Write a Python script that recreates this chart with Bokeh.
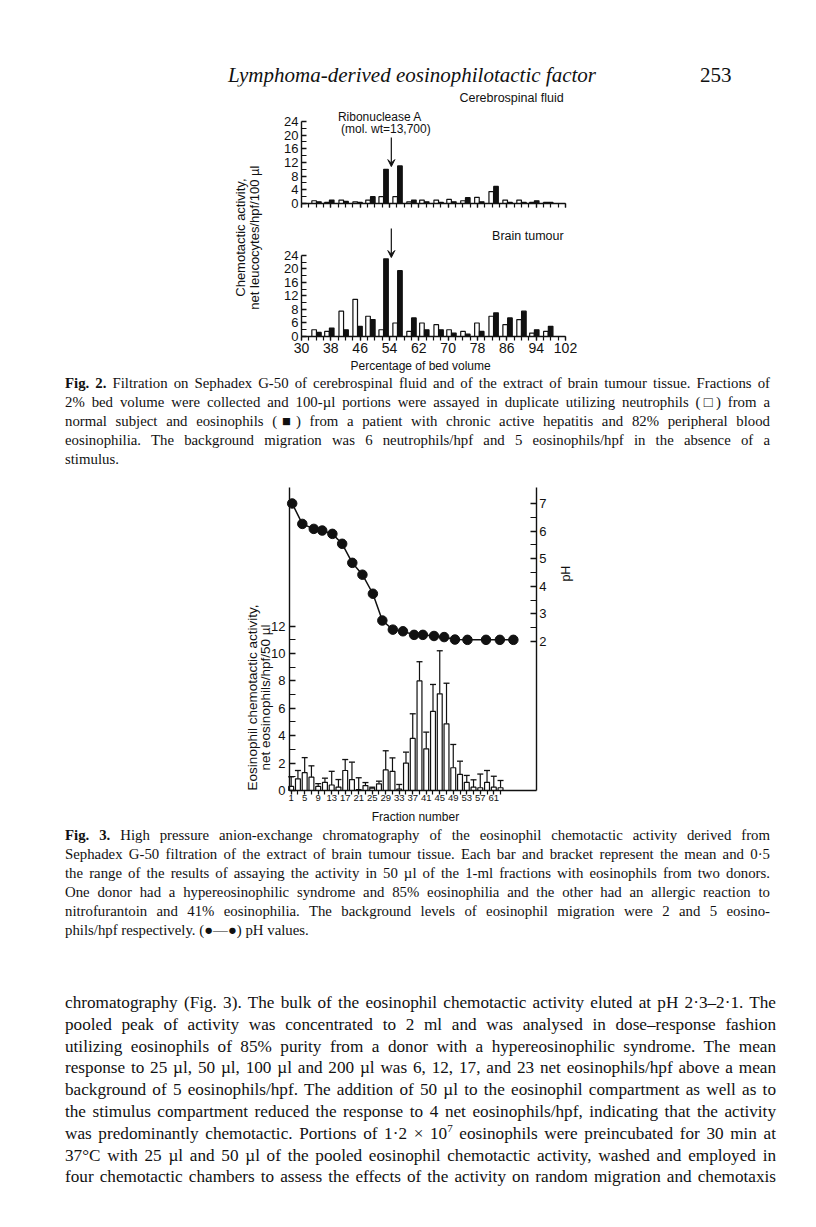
import math
from bokeh.plotting import figure
from bokeh.models import (Range1d, LinearAxis, FixedTicker, Label, Arrow, VeeHead,
                          Whisker, TeeHead, ColumnDataSource, Div)
from bokeh.layouts import column
from bokeh.transform import dodge
from bokeh.embed import file_html
from bokeh.resources import INLINE

# ---------------- Fig. 2 data ----------------
bed_volume = [34.1, 37.6, 41.5, 45.3, 48.8, 52.4, 56.2, 60.0, 63.5, 67.4,
              70.9, 74.7, 78.5, 82.4, 86.2, 90.0, 93.5, 97.3]
csf_neutrophils = [0.8, 0.3, 1.0, 0.5, 1.0, 2.0, 2.0, 0.5, 1.0, 1.0,
                   1.2, 0.8, 1.8, 3.5, 1.0, 1.0, 0.3, 0.3]
csf_eosinophils = [0.5, 1.0, 0.6, 0.3, 2.0, 10.0, 11.0, 1.0, 0.5, 0.3,
                   0.5, 1.7, 0.5, 5.0, 0.3, 0.3, 0.8, 0.3]
tumour_neutrophils = [2.0, 1.5, 7.5, 11.0, 6.0, 2.0, 4.0, 1.5, 4.0, 3.5,
                      2.0, 1.5, 4.0, 6.0, 3.5, 5.0, 1.0, 1.5]
tumour_eosinophils = [1.2, 2.5, 2.0, 3.0, 5.0, 23.0, 19.5, 5.5, 2.0, 2.0,
                      1.0, 0.7, 1.5, 7.0, 5.5, 7.5, 2.0, 3.0]
bed_ticks = [30, 38, 46, 54, 62, 70, 78, 86, 94, 102]
activity2_ticks = [0, 4, 8, 12, 16, 20, 24]
csf_tick_labels = ["0", "4", "8", "12", "16", "20", "24"]
tumour_tick_labels = ["0", "6", "8", "12", "16", "20", "24"]
ribonuclease_peak = 54.5

# ---------------- Fig. 3 data ----------------
fractions = [1, 3, 5, 7, 9, 11, 13, 15, 17, 19, 21, 23, 25, 27, 29, 31,
             33, 35, 37, 39, 41, 43, 45, 47, 49, 51, 53, 55, 57, 59, 61, 63]
eos_mean = [0.3, 0.85, 1.3, 0.97, 0.3, 0.6, 0.4, 0.25, 1.46, 0.8, 0.07, 0.36,
            0.17, 0.49, 1.5, 1.4, 0.1, 2.0, 3.8, 8.0, 3.04, 5.77, 7.06, 4.87,
            1.66, 1.17, 0.6, 0.24, 0.2, 0.6, 0.24, 0.2]
eos_upper = [1.0, 1.46, 2.4, 1.8, 0.5, 0.9, 1.4, 0.8, 2.26, 2.07, 0.93, 0.58,
             0.24, 0.68, 2.9, 2.38, 0.44, 2.8, 5.6, 9.4, 4.26, 7.74, 10.2, 7.83,
             3.36, 2.14, 1.1, 0.78, 1.2, 1.46, 1.04, 0.73]
ph_fraction = [1.3, 4.3, 7.7, 10.2, 13.2, 16.1, 19.1, 22.1, 25.2, 28.0, 31.1,
               34.1, 37.4, 40.0, 43.3, 46.3, 49.5, 53.2, 58.7, 62.8, 66.8]
ph_values = [7.0, 6.26, 6.08, 6.02, 5.9, 5.54, 4.85, 4.42, 3.73, 2.76, 2.43,
             2.37, 2.24, 2.24, 2.2, 2.16, 2.07, 2.06, 2.06, 2.06, 2.06]
fraction_ticks = [1, 5, 9, 13, 17, 21, 25, 29, 33, 37, 41, 45, 49, 53, 57, 61]
activity3_ticks = [0, 2, 4, 6, 8, 10, 12]
ph_ticks = [2, 3, 4, 5, 6, 7]

SANS = "Liberation Sans"
SERIF = "'Liberation Serif', 'Times New Roman', serif"
INK = "#111111"


def style_axis(ax, size, tin, tout, standoff=3):
    ax.axis_line_color = INK
    ax.axis_line_width = 1.4
    ax.major_tick_line_color = INK
    ax.minor_tick_line_color = INK
    ax.major_tick_line_width = 1.3
    ax.minor_tick_line_width = 1.2
    ax.major_tick_in = tin
    ax.major_tick_out = tout
    ax.minor_tick_in = tin
    ax.minor_tick_out = tout
    ax.major_label_text_font = SANS
    ax.major_label_text_font_size = size
    ax.major_label_text_color = INK
    ax.major_label_standoff = standoff


def lab(p, x, y, text, size, align="center", angle=0.0, yr="default", baseline="middle"):
    p.add_layout(Label(x=x, y=y, text=text, text_font=SANS, text_font_size=size,
                       text_align=align, text_baseline=baseline, angle=angle,
                       text_color=INK, y_range_name=yr))


def bare_figure(w, h, xr, yr):
    p = figure(width=w, height=h, min_border_left=0, min_border_right=0,
               min_border_top=0, min_border_bottom=0, x_range=xr, y_range=yr,
               x_axis_type=None, y_axis_type=None, output_backend="svg",
               toolbar_location=None)
    p.outline_line_color = None
    return p


# ================= Fig. 2 =================
p2 = bare_figure(800, 288, Range1d(-49.9, 168.27), Range1d(-11.26, 74.07))
p2.extra_y_ranges = {"top": Range1d(-50.05, 34.24)}

bed_minor = list(range(30, 103, 2))
act_minor = [2, 6, 10, 14, 18, 22]

xb = LinearAxis(fixed_location=0, bounds=(30, 102),
                ticker=FixedTicker(ticks=bed_ticks, minor_ticks=bed_minor))
style_axis(xb, "14px", 0, 4, 3)
p2.add_layout(xb, "below")

yb = LinearAxis(fixed_location=30, bounds=(0, 24),
                ticker=FixedTicker(ticks=activity2_ticks, minor_ticks=act_minor),
                major_label_overrides={t: s for t, s in zip(activity2_ticks, tumour_tick_labels)})
style_axis(yb, "13px", 5, 0, 3)
p2.add_layout(yb, "left")

yt = LinearAxis(y_range_name="top", fixed_location=30, bounds=(0, 24),
                ticker=FixedTicker(ticks=activity2_ticks, minor_ticks=act_minor),
                major_label_overrides={t: s for t, s in zip(activity2_ticks, csf_tick_labels)})
style_axis(yt, "13px", 5, 0, 3)
p2.add_layout(yt, "left")

xt = LinearAxis(y_range_name="top", fixed_location=0, bounds=(30, 102),
                ticker=FixedTicker(ticks=bed_ticks, minor_ticks=bed_minor))
style_axis(xt, "14px", 0, 4, 0)
xt.major_label_text_color = None
p2.add_layout(xt, "below")

src2 = ColumnDataSource(dict(x=bed_volume, csf_n=csf_neutrophils, csf_e=csf_eosinophils,
                             tum_n=tumour_neutrophils, tum_e=tumour_eosinophils))
bw = 1.25
for col, yr, dx, fill in [("tum_n", "default", -0.65, "white"), ("tum_e", "default", 0.65, INK),
                          ("csf_n", "top", -0.65, "white"), ("csf_e", "top", 0.65, INK)]:
    p2.vbar(x=dodge("x", dx, range=p2.x_range), top=col, width=bw, source=src2,
            fill_color=fill, line_color=INK, line_width=1.2, y_range_name=yr)

p2.add_layout(Arrow(end=VeeHead(size=7, line_color=INK, fill_color=INK, line_width=1),
                    x_start=ribonuclease_peak, y_start=19.3, x_end=ribonuclease_peak, y_end=10.8,
                    y_range_name="top", line_width=1.2, line_color=INK))
p2.add_layout(Arrow(end=VeeHead(size=7, line_color=INK, fill_color=INK, line_width=1),
                    x_start=ribonuclease_peak, y_start=32.0, x_end=ribonuclease_peak, y_end=23.4,
                    line_width=1.2, line_color=INK))

lab(p2, 101.5, 31.0, "Cerebrospinal fluid", "12.5px", align="right", yr="top")
lab(p2, 51.4, 25.2, "Ribonuclease A", "12px", yr="top")
lab(p2, 53.0, 21.7, "(mol. wt=13,700)", "12px", yr="top")
lab(p2, 101.5, 29.9, "Brain tumour", "12.5px", align="right")
lab(p2, 13.4, 29.3, "Chemotactic activity,", "13px", angle=math.pi / 2)
lab(p2, 17.2, 29.3, "net leucocytes/hpf/100 \u00b5l", "13px", angle=math.pi / 2)
lab(p2, 62.5, -8.75, "Percentage of bed volume", "12px")

# ================= Fig. 3 =================
p3 = bare_figure(800, 346, Range1d(-82.71, 154.2), Range1d(-2.628, 22.628))
p3.extra_y_ranges = {"ph": Range1d(-4.703, 7.833)}

xa = LinearAxis(fixed_location=0, bounds=(0.5, 73.6),
                ticker=FixedTicker(ticks=fraction_ticks,
                                   minor_ticks=[3, 7, 11, 15, 19, 23, 27, 31, 35, 39, 43, 47, 51, 55, 59, 63]))
style_axis(xa, "9.5px", 0, 4, 1)
p3.add_layout(xa, "below")

ya = LinearAxis(fixed_location=0.5, bounds=(0, 22.1),
                ticker=FixedTicker(ticks=activity3_ticks, minor_ticks=[1, 3, 5, 7, 9, 11]))
style_axis(ya, "13px", 6, 0, 4)
p3.add_layout(ya, "left")

yp = LinearAxis(y_range_name="ph", fixed_location=73.6, bounds=(-3.4, 7.58),
                ticker=FixedTicker(ticks=ph_ticks, minor_ticks=[2.5, 3.5, 4.5, 5.5, 6.5]))
style_axis(yp, "13px", 6, 0, 3)
p3.add_layout(yp, "right")

src3 = ColumnDataSource(dict(x=fractions, mean=eos_mean, upper=eos_upper))
p3.add_layout(Whisker(base="x", upper="upper", lower="mean", source=src3, dimension="height",
                      upper_head=TeeHead(size=6, line_width=1.3, line_color=INK), lower_head=None,
                      line_width=1.2, line_color=INK))
p3.vbar(x="x", top="mean", width=1.45, source=src3, fill_color="white",
        line_color=INK, line_width=1.2)

p3.line(ph_fraction, ph_values, y_range_name="ph", line_color=INK, line_width=1.5)
p3.scatter(ph_fraction, ph_values, y_range_name="ph", size=9.5, fill_color=INK, line_color=INK)

lab(p3, -10.46, 6.79, "Eosinophil chemotactic activity,", "13.5px", angle=math.pi / 2)
lab(p3, -6.61, 6.79, "net eosinophils/hpf/50 \u00b5l", "13.5px", angle=math.pi / 2)
lab(p3, 37.8, -1.9, "Fraction number", "12px")
lab(p3, 82.5, 4.46, "pH", "12.5px", angle=math.pi / 2, yr="ph")


# ================= text blocks =================
def block(lines, size, lh, left, width, pad_top=0, last_full=False):
    rows = []
    for i, ln in enumerate(lines):
        full = (i < len(lines) - 1) or last_full
        align = "text-align:justify;text-align-last:justify;" if full else "text-align:left;"
        rows.append(f'<div style="{align}white-space:nowrap;height:{lh}px;line-height:{lh}px;">{ln}</div>')
    return (f'<div style="box-sizing:content-box;padding-top:{pad_top}px;padding-left:{left}px;'
            f'width:{width}px;font-family:{SERIF};font-size:{size}px;color:{INK};">'
            + "".join(rows) + "</div>")


header_html = (f'<div style="position:relative;width:800px;height:78px;font-family:{SERIF};color:{INK};">'
               '<span style="position:absolute;left:220px;top:54px;font-size:21px;font-style:italic;'
               'line-height:26px;white-space:nowrap;">Lymphoma-derived eosinophilotactic factor</span>'
               '<span style="position:absolute;left:692px;top:54px;font-size:21px;line-height:26px;">253</span>'
               '</div>')
header = Div(text=header_html, width=800, height=78, margin=(0, 0, 0, 0))

cap2_lines = [
    "<b>Fig. 2.</b> Filtration on Sephadex G-50 of cerebrospinal fluid and of the extract of brain tumour tissue. Fractions of",
    "2% bed volume were collected and 100-\u00b5l portions were assayed in duplicate utilizing neutrophils (\u25a1) from a",
    "normal subject and eosinophils (\u25a0) from a patient with chronic active hepatitis and 82% peripheral blood",
    "eosinophilia. The background migration was 6 neutrophils/hpf and 5 eosinophils/hpf in the absence of a",
    "stimulus.",
]
cap2 = Div(text=block(cap2_lines, 14.8, 19, 57, 705), width=800, height=106, margin=(0, 0, 0, 0))

cap3_lines = [
    "<b>Fig. 3.</b> High pressure anion-exchange chromatography of the eosinophil chemotactic activity derived from",
    "Sephadex G-50 filtration of the extract of brain tumour tissue. Each bar and bracket represent the mean and 0\u00b75",
    "the range of the results of assaying the activity in 50 \u00b5l of the 1-ml fractions with eosinophils from two donors.",
    "One donor had a hypereosinophilic syndrome and 85% eosinophilia and the other had an allergic reaction to",
    "nitrofurantoin and 41% eosinophilia. The background levels of eosinophil migration were 2 and 5 eosino-",
    "phils/hpf respectively. (\u25cf\u2014\u25cf) pH values.",
]
cap3 = Div(text=block(cap3_lines, 14.8, 19, 57, 705), width=800, height=114, margin=(0, 0, 0, 0))

body_lines = [
    "chromatography (Fig. 3). The bulk of the eosinophil chemotactic activity eluted at pH 2\u00b73\u20132\u00b71. The",
    "pooled peak of activity was concentrated to 2 ml and was analysed in dose\u2013response fashion",
    "utilizing eosinophils of 85% purity from a donor with a hypereosinophilic syndrome. The mean",
    "response to 25 \u00b5l, 50 \u00b5l, 100 \u00b5l and 200 \u00b5l was 6, 12, 17, and 23 net eosinophils/hpf above a mean",
    "background of 5 eosinophils/hpf. The addition of 50 \u00b5l to the eosinophil compartment as well as to",
    "the stimulus compartment reduced the response to 4 net eosinophils/hpf, indicating that the activity",
    "was predominantly chemotactic. Portions of 1\u00b72 \u00d7 10<sup style=\"font-size:11px;line-height:0\">7</sup> eosinophils were preincubated for 30 min at",
    "37\u00b0C with 25 \u00b5l and 50 \u00b5l of the pooled eosinophil chemotactic activity, washed and employed in",
    "four chemotactic chambers to assess the effects of the activity on random migration and chemotaxis",
]
body = Div(text=block(body_lines, 17.2, 21.8, 57, 711, pad_top=52, last_full=True),
           width=800, height=250, margin=(0, 0, 0, 0))

page = column(header, p2, cap2, p3, cap3, body, spacing=0, margin=(8, 8, 8, 8))

open("out.html", "w").write(file_html(page, INLINE, "Lymphoma-derived eosinophilotactic factor"))
